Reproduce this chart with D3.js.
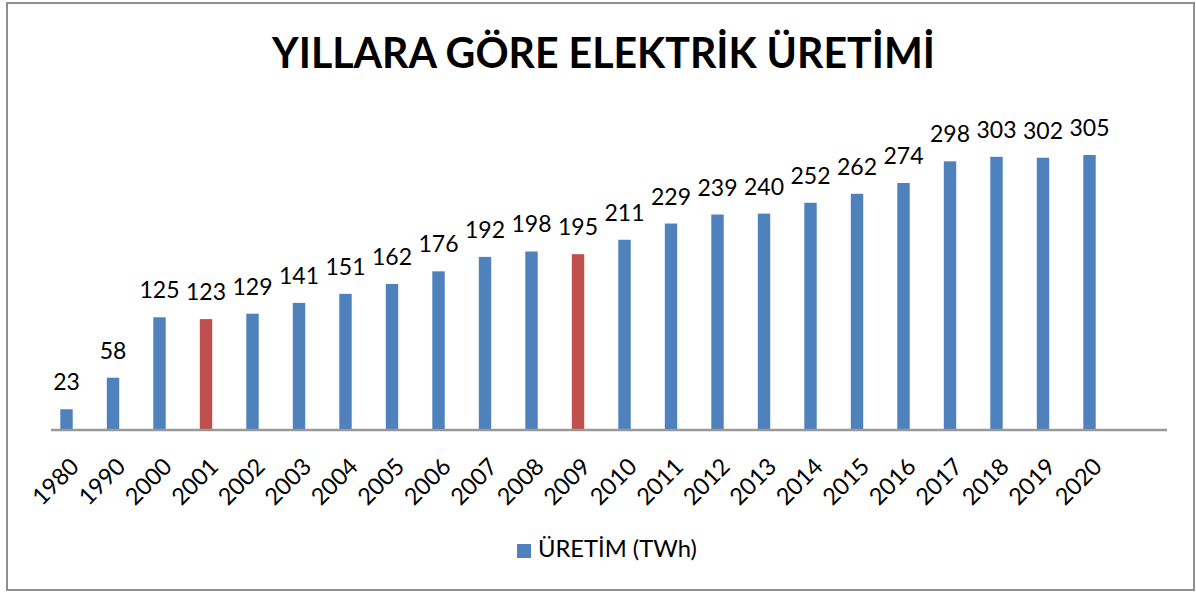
<!DOCTYPE html>
<html>
<head>
<meta charset="utf-8">
<script src="https://cdn.jsdelivr.net/npm/d3@7/dist/d3.min.js"></script>
<style>
  html, body { margin: 0; padding: 0; background: #fff; }
  svg { display: block; font-family: Lato, "Open Sans", sans-serif; }
</style>
</head>
<body>
<svg id="chart" width="1196" height="592"></svg>
<script>
// Yearly electricity production (TWh)
const years = ["1980","1990","2000","2001","2002","2003","2004","2005","2006","2007","2008","2009",
               "2010","2011","2012","2013","2014","2015","2016","2017","2018","2019","2020"];
const production = [23, 58, 125, 123, 129, 141, 151, 162, 176, 192, 198, 195,
                    211, 229, 239, 240, 252, 262, 274, 298, 303, 302, 305];
// Years drawn in the highlight colour (economic crisis years)
const highlightYears = ["2001", "2009"];

const titleText = "YILLARA GÖRE ELEKTRİK ÜRETİMİ";
const legendText = "ÜRETİM (TWh)";

const blue = "#4F81BD", red = "#C0504D", axisGrey = "#999999";

const svg = d3.select("#chart");

// outer chart frame
svg.append("rect")
  .attr("x", 7).attr("y", 3).attr("width", 1187).attr("height", 587)
  .attr("fill", "#fff").attr("stroke", "#8f8f8f").attr("stroke-width", 2);

// plot area: the category axis has one empty slot after the last year
const plot = { left: 51, right: 1167, baseline: 430 };
const slots = years.length + 1;
const step = (plot.right - plot.left) / slots;

const x = d3.scaleBand()
  .domain(years)
  .range([plot.left, plot.left + step * years.length])
  .padding(0);

const y = d3.scaleLinear()
  .domain([0, 350])
  .range([plot.baseline, plot.baseline - 350 * 0.9016]);

const barW = x.bandwidth() * 0.267;
const barOffset = x.bandwidth() * 0.2;
const barCenter = d => x(d) + barOffset + barW / 2;

const data = years.map((yr, i) => ({ year: yr, value: production[i] }));

// bars
svg.append("g").selectAll("rect")
  .data(data)
  .join("rect")
  .attr("x", d => x(d.year) + barOffset)
  .attr("width", barW)
  .attr("y", d => y(d.value))
  .attr("height", d => y(0) - y(d.value))
  .attr("fill", d => highlightYears.includes(d.year) ? red : blue);

// value labels
svg.append("g").selectAll("text")
  .data(data)
  .join("text")
  .attr("x", d => barCenter(d.year))
  .attr("y", d => y(d.value) - 19)
  .attr("text-anchor", "middle")
  .attr("font-size", 23)
  .attr("fill", "#000")
  .text(d => d.value);

// category axis
const xAxis = d3.axisBottom(x).tickSize(0).tickPadding(0);
const axisG = svg.append("g")
  .attr("transform", `translate(0,${plot.baseline})`)
  .call(xAxis);
axisG.select(".domain").remove();
axisG.append("line")
  .attr("x1", plot.left).attr("x2", plot.right)
  .attr("y1", 0).attr("y2", 0)
  .attr("stroke", axisGrey).attr("stroke-width", 2.5);
axisG.selectAll(".tick").attr("transform", d => `translate(${barCenter(d)},0)`);
axisG.selectAll(".tick text")
  .attr("font-family", "Lato, 'Open Sans', sans-serif")
  .attr("font-size", 23.5)
  .attr("fill", "#000")
  .attr("text-anchor", "end")
  .attr("dy", null)
  .attr("y", null)
  .attr("transform", "translate(14,38) rotate(-45)");

// title
const title = svg.append("text")
  .attr("x", 603.5).attr("y", 67.5)
  .attr("text-anchor", "middle")
  .attr("font-weight", "bold")
  .attr("font-size", 41)
  .attr("fill", "#000")
  .text(titleText);
const tw = title.node().getComputedTextLength();
title.attr("font-size", 41 * 663 / tw);

// legend
const legend = svg.append("g");
legend.append("rect")
  .attr("x", 517).attr("y", 544).attr("width", 14).attr("height", 14)
  .attr("fill", blue);
const legendLabel = legend.append("text")
  .attr("x", 538).attr("y", 557)
  .attr("font-size", 22)
  .attr("fill", "#000")
  .text(legendText);
const lw = legendLabel.node().getComputedTextLength();
legendLabel.attr("font-size", 22 * 159 / lw);
</script>
</body>
</html>
